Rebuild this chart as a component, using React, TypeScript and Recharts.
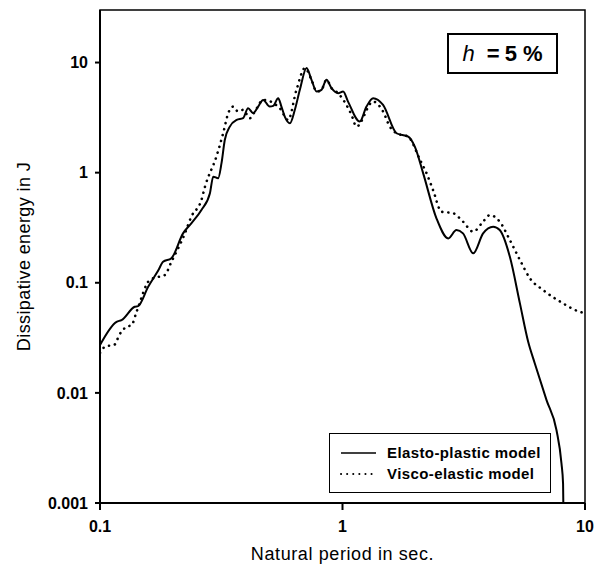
import React from "react";
import {
  LineChart,
  Line,
  XAxis,
  YAxis,
  Legend,
  ReferenceArea,
} from "recharts";

// Elasto-plastic model (solid line)
const elastoPeriods = [
  0.1, 0.117, 0.1227, 0.139, 0.1436, 0.158, 0.174, 0.182, 0.197, 0.22, 0.238,
  0.262, 0.284, 0.293, 0.307, 0.317, 0.327, 0.343, 0.366, 0.389, 0.408, 0.428,
  0.449, 0.471, 0.501, 0.518, 0.543, 0.56, 0.578, 0.607, 0.636, 0.667, 0.711,
  0.745, 0.782, 0.819, 0.859, 0.901, 0.959, 1.006, 1.054, 1.178, 1.256, 1.337,
  1.47, 1.67, 1.866, 1.987, 2.15, 2.44, 2.73, 2.95, 3.14, 3.46, 3.8, 4.18, 4.45,
  4.9, 5.39, 5.83, 6.21, 6.94, 7.63, 8.0, 8.12, 8.14,
];
const elastoEnergy = [
  0.0272, 0.0442, 0.0458, 0.0605, 0.0614, 0.092, 0.13, 0.155, 0.167, 0.281,
  0.347, 0.458, 0.65, 0.92, 0.89, 1.22, 1.98, 2.62, 3.01, 3.12, 3.85, 3.47,
  3.98, 4.58, 3.98, 4.04, 4.75, 3.98, 3.23, 2.81, 3.72, 5.65, 8.9, 6.97, 5.45,
  5.65, 6.97, 5.85, 5.27, 5.45, 4.42, 2.91, 3.98, 4.75, 4.12, 2.28, 2.12, 1.72,
  0.99, 0.385, 0.253, 0.301, 0.281, 0.185, 0.281, 0.323, 0.301, 0.172, 0.065,
  0.0291, 0.0185, 0.0086, 0.00458, 0.00228, 0.0015, 0.001,
];

// Visco-elastic model (dotted line)
const viscoPeriods = [
  0.1, 0.1047, 0.115, 0.12, 0.1286, 0.135, 0.1415, 0.1604, 0.174, 0.185, 0.197,
  0.224, 0.238, 0.262, 0.271, 0.302, 0.322, 0.338, 0.354, 0.371, 0.389, 0.415,
  0.435, 0.471, 0.551, 0.597, 0.646, 0.7, 0.745, 0.782, 0.819, 0.859, 0.901,
  0.959, 1.089, 1.142, 1.337, 1.47, 1.567, 1.67, 1.866, 2.09, 2.22, 2.36, 2.56,
  2.86, 3.14, 3.46, 3.8, 4.05, 4.45, 4.9, 5.39, 5.93, 6.72, 8.12, 9.51, 10,
];
const viscoEnergy = [
  0.023, 0.0262, 0.0275, 0.0335, 0.0398, 0.0412, 0.0545, 0.106, 0.113, 0.1175,
  0.155, 0.281, 0.398, 0.565, 0.746, 1.4, 2.28, 3.47, 3.98, 3.59, 3.72, 3.12,
  3.59, 4.58, 3.85, 3.01, 5.65, 8.9, 6.97, 5.45, 5.65, 6.97, 5.85, 5.27, 3.35,
  2.62, 4.42, 3.59, 2.62, 2.28, 2.12, 1.3, 0.99, 0.7, 0.442, 0.428, 0.359,
  0.291, 0.359, 0.412, 0.359, 0.244, 0.161, 0.1096, 0.0859, 0.065, 0.0545,
  0.053,
];

const xTicks = [0.1, 1, 10];
const yTicks = [0.001, 0.01, 0.1, 1, 10];

const seriesNames = ["Elasto-plastic model", "Visco-elastic model"];

const elastoData = elastoPeriods.map((p, i) => ({ period: p, energy: elastoEnergy[i] }));
const viscoData = viscoPeriods.map((p, i) => ({ period: p, energy: viscoEnergy[i] }));

const FONT = "'Liberation Sans', Arial, sans-serif";
const DOTS = "0.1 6";

function ModelLegend() {
  return (
    <div
      style={{
        width: 222,
        height: 60,
        border: "1.5px solid #000",
        background: "#fff",
        fontFamily: FONT,
        fontSize: 15,
        letterSpacing: 0.4,
        fontWeight: "bold",
        color: "#000",
        boxSizing: "border-box",
        paddingTop: 8,
      }}
    >
      {seriesNames.map((name, i) => (
        <div key={name} style={{ display: "flex", alignItems: "center", height: 21 }}>
          <svg width={48} height={10} style={{ marginLeft: 9 }}>
            <line
              x1={2}
              y1={5}
              x2={37}
              y2={5}
              stroke="#000"
              strokeWidth={i === 0 ? 1.5 : 2}
              strokeDasharray={i === 0 ? undefined : DOTS}
              strokeLinecap={i === 0 ? "butt" : "round"}
            />
          </svg>
          <span>{name}</span>
        </div>
      ))}
    </div>
  );
}

export default function App() {
  return (
    <div style={{ position: "absolute", left: 0, top: 0, width: 607, height: 570, background: "#fff" }}>
      <LineChart width={607} height={570} margin={{ top: 10, right: 22, bottom: 8, left: 0 }}>
        <XAxis
          dataKey="period"
          type="number"
          scale="log"
          domain={[0.1, 10]}
          ticks={xTicks}
          allowDataOverflow
          height={59}
          stroke="#000"
          strokeWidth={2}
          tickSize={7}
          tickMargin={11}
          tick={{ fill: "#000", fontSize: 16, fontWeight: "bold", fontFamily: FONT }}
          label={{
            value: "Natural period in sec.",
            position: "insideBottom",
            offset: 2,
            fill: "#000",
            fontSize: 18,
            letterSpacing: 0.6,
            fontFamily: FONT,
          }}
        />
        <YAxis
          dataKey="energy"
          type="number"
          scale="log"
          domain={[0.001, 30]}
          ticks={yTicks}
          allowDataOverflow
          width={100}
          stroke="#000"
          strokeWidth={2}
          tickSize={5}
          tickMargin={7}
          tickFormatter={(v) => String(v)}
          tick={{ fill: "#000", fontSize: 16, fontWeight: "bold", fontFamily: FONT }}
          label={{
            value: "Dissipative energy in J",
            angle: -90,
            position: "insideLeft",
            offset: 24,
            style: { textAnchor: "middle" },
            fill: "#000",
            fontSize: 18,
            letterSpacing: 0.4,
            fontFamily: FONT,
          }}
        />
        <ReferenceArea
          x1={0.1}
          x2={10}
          y1={0.001}
          y2={30}
          fill="none"
          stroke="#000"
          strokeWidth={1.5}
          ifOverflow="visible"
        />
        <Line
          data={viscoData}
          dataKey="energy"
          name={seriesNames[1]}
          type="monotone"
          stroke="#000"
          strokeWidth={2.6}
          strokeDasharray={DOTS}
          strokeLinecap="round"
          dot={false}
          isAnimationActive={false}
        />
        <Line
          data={elastoData}
          dataKey="energy"
          name={seriesNames[0]}
          type="monotone"
          stroke="#000"
          strokeWidth={2}
          dot={false}
          isAnimationActive={false}
        />
        <Legend
          layout="vertical"
          align="center"
          verticalAlign="middle"
          content={() => <ModelLegend />}
          wrapperStyle={{ position: "absolute", left: 329, top: 433, width: 222, height: 60 }}
        />
      </LineChart>
      <div
        style={{
          position: "absolute",
          left: 447,
          top: 33,
          width: 111,
          height: 41,
          border: "2px solid #000",
          boxSizing: "border-box",
          display: "flex",
          alignItems: "center",
          justifyContent: "center",
          fontFamily: FONT,
          fontSize: 22,
          color: "#000",
        }}
      >
        <span style={{ fontStyle: "italic" }}>h</span>
        <span style={{ marginLeft: 12, fontWeight: "bold" }}>=</span>
        <span style={{ marginLeft: 5, fontWeight: "bold" }}>5</span>
        <span style={{ marginLeft: 6, fontWeight: "bold" }}>%</span>
      </div>
    </div>
  );
}
